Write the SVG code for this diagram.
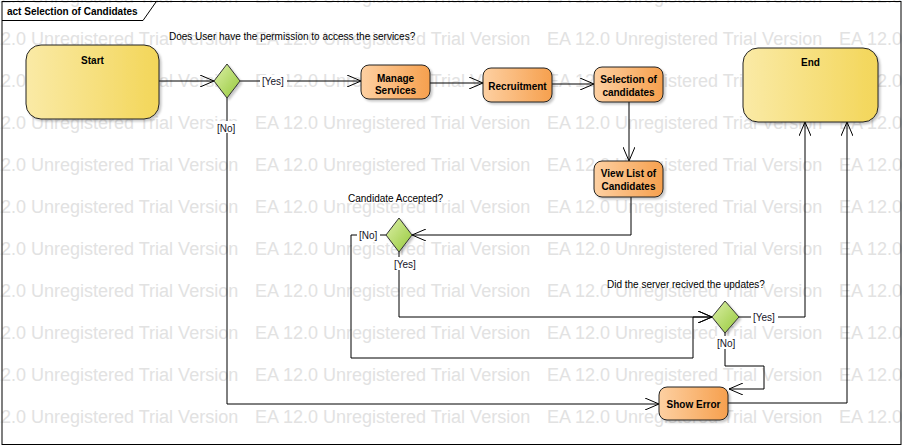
<svg xmlns="http://www.w3.org/2000/svg" width="903" height="446" viewBox="0 0 903 446">
<defs>
<linearGradient id="gy" x1="0" y1="0" x2="1" y2="0"><stop offset="0" stop-color="#faeaa6"/><stop offset="1" stop-color="#f3d659"/></linearGradient>
<linearGradient id="go" x1="0" y1="0" x2="1" y2="0"><stop offset="0" stop-color="#fdd0a2"/><stop offset="1" stop-color="#f6a04e"/></linearGradient>
<linearGradient id="gg" x1="0" y1="0" x2="1" y2="1"><stop offset="0" stop-color="#dcefa8"/><stop offset="1" stop-color="#96c93a"/></linearGradient>
<filter id="sh" x="-10%" y="-10%" width="130%" height="130%"><feDropShadow dx="2" dy="2" stdDeviation="1.2" flood-color="#000" flood-opacity="0.22"/></filter>
<marker id="arr" markerUnits="userSpaceOnUse" viewBox="0 0 14 12" refX="14" refY="6" markerWidth="14" markerHeight="12" orient="auto"><path d="M0,0 L14,6 L0,12" fill="none" stroke="#000" stroke-width="1"/></marker>
<style>
.wm{font-family:"Liberation Sans",Arial,sans-serif;font-size:18px;fill:#e2e2e2}
.t{font-family:"Liberation Sans",Arial,sans-serif;font-size:10px;fill:#000}
.b{font-family:"Liberation Sans",Arial,sans-serif;font-size:10px;font-weight:bold;fill:#000;text-anchor:middle}
.lbl{font-family:"Liberation Sans",Arial,sans-serif;font-size:10px;fill:#141428}
.lbg{fill:#fff}
.c{fill:none;stroke:#000;stroke-width:1}
.ca{fill:none;stroke:#000;stroke-width:1;marker-end:url(#arr)}
.ny{fill:url(#gy);stroke:#222;stroke-width:1;filter:url(#sh)}
.no{fill:url(#go);stroke:#222;stroke-width:1;filter:url(#sh)}
.nd{fill:url(#gg);stroke:#333;stroke-width:1;filter:url(#sh)}
</style>
</defs>
<rect x="0" y="0" width="903" height="446" fill="#fff"/>
<g id="watermark" class="wm">
<text y="3"><tspan x="-37">EA 12.0 Unregistered Trial Version</tspan><tspan x="255">EA 12.0 Unregistered Trial Version</tspan><tspan x="547">EA 12.0 Unregistered Trial Version</tspan><tspan x="839">EA 12.0 Unregistered Trial Version</tspan></text>
<text y="45"><tspan x="-37">EA 12.0 Unregistered Trial Version</tspan><tspan x="255">EA 12.0 Unregistered Trial Version</tspan><tspan x="547">EA 12.0 Unregistered Trial Version</tspan><tspan x="839">EA 12.0 Unregistered Trial Version</tspan></text>
<text y="87"><tspan x="-37">EA 12.0 Unregistered Trial Version</tspan><tspan x="255">EA 12.0 Unregistered Trial Version</tspan><tspan x="547">EA 12.0 Unregistered Trial Version</tspan><tspan x="839">EA 12.0 Unregistered Trial Version</tspan></text>
<text y="129"><tspan x="-37">EA 12.0 Unregistered Trial Version</tspan><tspan x="255">EA 12.0 Unregistered Trial Version</tspan><tspan x="547">EA 12.0 Unregistered Trial Version</tspan><tspan x="839">EA 12.0 Unregistered Trial Version</tspan></text>
<text y="171"><tspan x="-37">EA 12.0 Unregistered Trial Version</tspan><tspan x="255">EA 12.0 Unregistered Trial Version</tspan><tspan x="547">EA 12.0 Unregistered Trial Version</tspan><tspan x="839">EA 12.0 Unregistered Trial Version</tspan></text>
<text y="213"><tspan x="-37">EA 12.0 Unregistered Trial Version</tspan><tspan x="255">EA 12.0 Unregistered Trial Version</tspan><tspan x="547">EA 12.0 Unregistered Trial Version</tspan><tspan x="839">EA 12.0 Unregistered Trial Version</tspan></text>
<text y="255"><tspan x="-37">EA 12.0 Unregistered Trial Version</tspan><tspan x="255">EA 12.0 Unregistered Trial Version</tspan><tspan x="547">EA 12.0 Unregistered Trial Version</tspan><tspan x="839">EA 12.0 Unregistered Trial Version</tspan></text>
<text y="297"><tspan x="-37">EA 12.0 Unregistered Trial Version</tspan><tspan x="255">EA 12.0 Unregistered Trial Version</tspan><tspan x="547">EA 12.0 Unregistered Trial Version</tspan><tspan x="839">EA 12.0 Unregistered Trial Version</tspan></text>
<text y="339"><tspan x="-37">EA 12.0 Unregistered Trial Version</tspan><tspan x="255">EA 12.0 Unregistered Trial Version</tspan><tspan x="547">EA 12.0 Unregistered Trial Version</tspan><tspan x="839">EA 12.0 Unregistered Trial Version</tspan></text>
<text y="381"><tspan x="-37">EA 12.0 Unregistered Trial Version</tspan><tspan x="255">EA 12.0 Unregistered Trial Version</tspan><tspan x="547">EA 12.0 Unregistered Trial Version</tspan><tspan x="839">EA 12.0 Unregistered Trial Version</tspan></text>
<text y="423"><tspan x="-37">EA 12.0 Unregistered Trial Version</tspan><tspan x="255">EA 12.0 Unregistered Trial Version</tspan><tspan x="547">EA 12.0 Unregistered Trial Version</tspan><tspan x="839">EA 12.0 Unregistered Trial Version</tspan></text>
</g>
<g id="frame">
<rect x="2" y="1.5" width="899" height="443" fill="none" stroke="#000" stroke-width="1"/>
<path d="M2,20.5 H143 L156,2" fill="none" stroke="#000" stroke-width="1"/>
<text x="7" y="15" class="t" font-weight="bold">act Selection of Candidates</text>
</g>
<g id="connectors">
<path class="ca" d="M159,81 H214"/>
<path class="ca" d="M240,81 H361"/>
<path class="ca" d="M430,83 H483"/>
<path class="ca" d="M552,84 H594"/>
<path class="ca" d="M629,102 V161"/>
<path class="ca" d="M631,197 V235 H412"/>
<path class="ca" d="M386,235 H351 V358 H693 V317 H712"/>
<path class="ca" d="M399,252 V317 H712"/>
<path class="ca" d="M739,317 H805 V122"/>
<path class="ca" d="M725,333 V366 H764 V389 H729"/>
<path class="ca" d="M227,98 V404 H659"/>
<path class="ca" d="M728,403 H847 V122"/>
<g id="guards">
<rect class="lbg" x="260" y="75" width="27" height="12"/><text class="lbl" x="262" y="85">[Yes]</text>
<rect class="lbg" x="215" y="121" width="23" height="12"/><text class="lbl" x="217" y="131.5">[No]</text>
<rect class="lbg" x="357" y="229" width="23" height="12"/><text class="lbl" x="359" y="239.3">[No]</text>
<rect class="lbg" x="392" y="257" width="27" height="13"/><text class="lbl" x="394" y="267.5">[Yes]</text>
<rect class="lbg" x="751" y="311" width="27" height="12"/><text class="lbl" x="753" y="321">[Yes]</text>
<rect class="lbg" x="715" y="336" width="23" height="13"/><text class="lbl" x="717" y="346.5">[No]</text>
</g>
</g>
<g id="start"><rect class="ny" x="26" y="45" width="133" height="74" rx="15"/><text class="b" x="92.5" y="63.5">Start</text></g>
<g id="decision1"><polygon class="nd" points="227,64 240,81 227,98 214,81"/><text class="t" x="169" y="39.5">Does User have the permission to access the services?</text></g>
<g id="manageServices"><rect class="no" x="361" y="65" width="69" height="34" rx="8"/><text class="b" x="395.5" y="81.5">Manage</text><text class="b" x="395.5" y="94">Services</text></g>
<g id="recruitment"><rect class="no" x="483" y="68" width="69" height="34" rx="8"/><text class="b" x="517.5" y="90">Recruitment</text></g>
<g id="selection"><rect class="no" x="594" y="67" width="69" height="35" rx="8"/><text class="b" x="628.5" y="83.3">Selection of</text><text class="b" x="628.5" y="96">candidates</text></g>
<g id="viewList"><rect class="no" x="594" y="161" width="69" height="36" rx="8"/><text class="b" x="628.5" y="177.3">View List of</text><text class="b" x="628.5" y="190">Candidates</text></g>
<g id="decision2"><polygon class="nd" points="399,218 412,235 399,252 386,235"/><text class="t" x="348" y="201.7">Candidate Accepted?</text></g>
<g id="decision3"><polygon class="nd" points="725,301 739,317 725,333 712,317"/><text class="t" x="607" y="288.3">Did the server recived the updates?</text></g>
<g id="showError"><rect class="no" x="659" y="387" width="69" height="33" rx="8"/><text class="b" x="693.5" y="408.3">Show Error</text></g>
<g id="end"><rect class="ny" x="743" y="48" width="135" height="74" rx="15"/><text class="b" x="810.5" y="66">End</text></g>
</svg>
